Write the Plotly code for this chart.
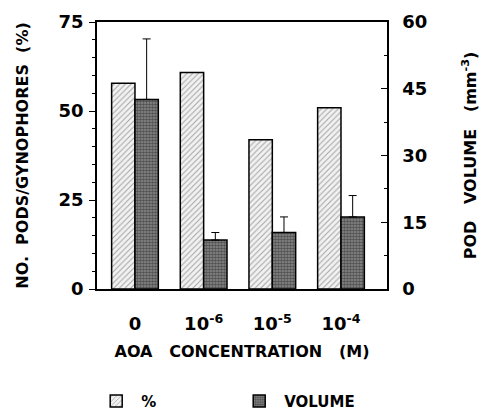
import plotly.graph_objects as go

categories = ["0", "10<sup>-6</sup>", "10<sup>-5</sup>", "10<sup>-4</sup>"]
pct_values = [57.8, 60.8, 41.9, 50.9]
volume_values = [42.6, 11.0, 12.7, 16.2]
volume_err_plus = [13.6, 1.7, 3.5, 4.8]
left_ticks = [0, 25, 50, 75]
right_ticks = [0, 15, 30, 45, 60]

xpos = list(range(len(categories)))
FONT = "DejaVu Sans"
NB = "\u00a0"

def spaced(s, n=2):
    return s.replace(" ", NB * n)

fig = go.Figure()
fig.add_trace(go.Bar(
    x=xpos, y=pct_values, name="%", width=0.34, offset=-0.34,
    marker=dict(color="white", line=dict(color="black", width=1.5),
                pattern=dict(shape="/", fgcolor="#555555", bgcolor="#f2f2f2", size=4, solidity=0.25)),
    yaxis="y",
))
fig.add_trace(go.Bar(
    x=xpos, y=volume_values, name="VOLUME", width=0.34, offset=0,
    marker=dict(color="#7a7a7a", line=dict(color="black", width=1.5),
                pattern=dict(shape=".", fgcolor="#151515", bgcolor="#8c8c8c", size=3, solidity=0.6)),
    error_y=dict(type="data", symmetric=False, array=volume_err_plus,
                 arrayminus=[0] * len(volume_err_plus), color="black", thickness=1, width=4),
    yaxis="y2",
))

tickfont = dict(family=FONT, size=18, color="black", weight="bold")
titlefont = dict(family=FONT, size=16, color="black", weight="bold")

fig.update_layout(
    width=487, height=418,
    margin=dict(l=89, r=108, t=14, b=137, autoexpand=False),
    plot_bgcolor="white", paper_bgcolor="white",
    showlegend=True,
    barmode="overlay",
    xaxis=dict(
        range=[-0.553, 3.67], tickmode="array", tickvals=xpos, ticktext=categories,
        showgrid=False, zeroline=False, showline=True, linecolor="black", linewidth=1.5,
        mirror=True, ticks="", tickfont=tickfont, ticklabelstandoff=18,
        title=dict(text=spaced("AOA CONCENTRATION (M)", 3), font=titlefont, standoff=12),
    ),
    yaxis=dict(
        range=[0, 75], tickvals=left_ticks, showgrid=False, zeroline=False,
        showline=True, linecolor="black", linewidth=1.5, ticks="outside", ticklen=6,
        tickcolor="black", tickfont=tickfont, ticklabelstandoff=2,
        minor=dict(dtick=5, ticks="outside", ticklen=3, tickcolor="black"),
        title=dict(text=spaced("NO. PODS/GYNOPHORES (%)"), font=titlefont, standoff=26),
    ),
    yaxis2=dict(
        range=[0, 60], tickvals=right_ticks, overlaying="y", side="right",
        showgrid=False, zeroline=False, showline=True, linecolor="black", linewidth=1.5,
        ticks="inside", ticklen=6, tickcolor="black", tickfont=tickfont, ticklabelstandoff=10,
        minor=dict(dtick=7.5, ticks="inside", ticklen=3, tickcolor="black"),
        title=dict(text=spaced("POD VOLUME (mm<sup>-3</sup>)", 3), font=titlefont, standoff=38),
    ),
    legend=dict(
        orientation="h", x=-0.02, xanchor="left", y=-0.42, yanchor="middle",
        font=dict(family=FONT, size=15, color="black", weight="bold"),
        entrywidth=88, entrywidthmode="pixels", bgcolor="rgba(0,0,0,0)",
        itemwidth=40,
    ),
)

fig.write_html("out.html")
